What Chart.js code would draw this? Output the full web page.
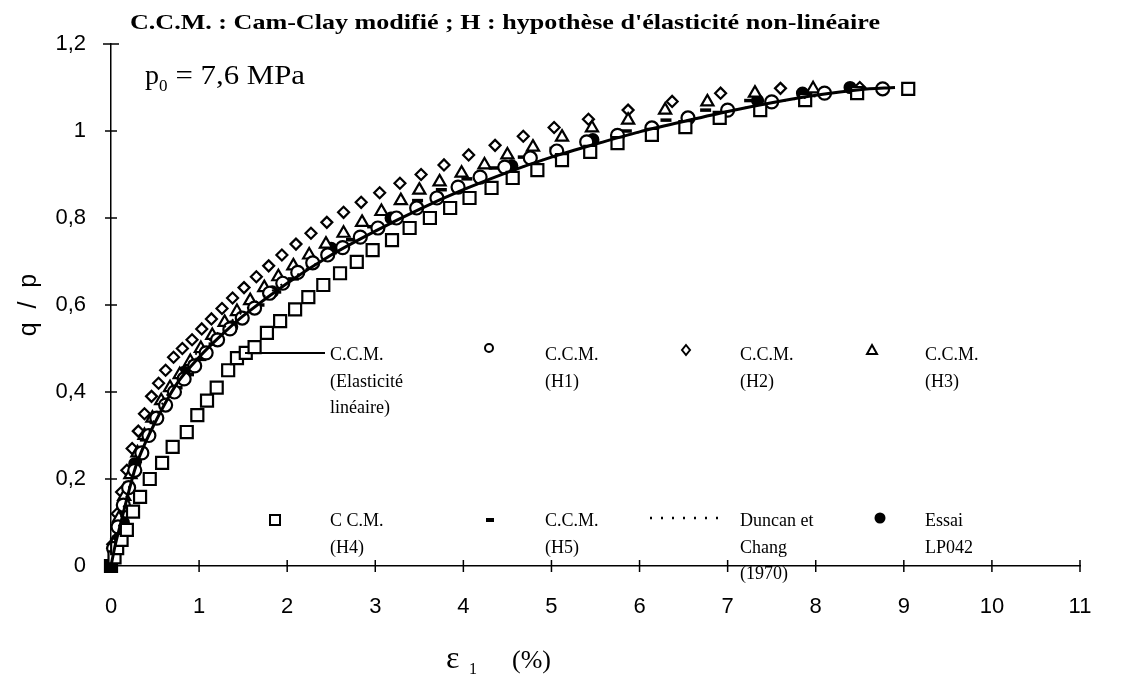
<!DOCTYPE html>
<html>
<head>
<meta charset="utf-8">
<script src="https://cdn.jsdelivr.net/npm/chart.js@4"></script>
<style>
  html, body { margin: 0; padding: 0; background: #fff; }
  #wrap { width: 1129px; height: 682px; }
</style>
</head>
<body>
<div id="wrap"><canvas id="chart" width="1129" height="682"></canvas></div>
<script>
// Axis ticks
const xTicks = [0, 1, 2, 3, 4, 5, 6, 7, 8, 9, 10, 11];
const yTicks = [0, 0.2, 0.4, 0.6, 0.8, 1, 1.2];

// C.C.M. (Elasticité linéaire) - solid line
const lineEps = [0, 0.05, 0.1, 0.2, 0.3, 0.5, 0.75, 1, 1.25, 1.5, 2, 2.5, 3, 3.5, 4, 4.5, 5, 5.5, 6, 6.5, 7, 7.5, 8, 8.5, 8.9];
const lineQp  = [0, 0.05, 0.09, 0.17, 0.24, 0.33, 0.42, 0.48, 0.53, 0.575, 0.65, 0.715, 0.77, 0.82, 0.865, 0.905, 0.94, 0.97, 0.998, 1.022, 1.045, 1.065, 1.082, 1.095, 1.1];

// C.C.M. (H1) - open circles
const h1Eps = [0.03, 0.08, 0.14, 0.2, 0.27, 0.35, 0.43, 0.52, 0.62, 0.72, 0.83, 0.95, 1.08, 1.21, 1.35, 1.49, 1.63, 1.8, 1.95, 2.12, 2.29, 2.46, 2.63, 2.83, 3.03, 3.24, 3.47, 3.7, 3.94, 4.19, 4.47, 4.76, 5.06, 5.4, 5.75, 6.14, 6.55, 7.0, 7.5, 8.1, 8.76];
const h1Qp  = [0.04, 0.09, 0.14, 0.18, 0.22, 0.26, 0.3, 0.34, 0.37, 0.4, 0.43, 0.46, 0.49, 0.52, 0.545, 0.57, 0.593, 0.627, 0.65, 0.675, 0.697, 0.715, 0.732, 0.756, 0.777, 0.8, 0.823, 0.846, 0.871, 0.894, 0.917, 0.938, 0.954, 0.975, 0.99, 1.007, 1.03, 1.048, 1.067, 1.087, 1.097];

// C.C.M. (H2) - open diamonds
const h2Eps = [0.02, 0.07, 0.12, 0.18, 0.24, 0.31, 0.38, 0.46, 0.54, 0.62, 0.71, 0.81, 0.92, 1.03, 1.14, 1.26, 1.38, 1.51, 1.65, 1.79, 1.94, 2.1, 2.27, 2.45, 2.64, 2.84, 3.05, 3.28, 3.52, 3.78, 4.06, 4.36, 4.68, 5.03, 5.42, 5.87, 6.37, 6.92, 7.6, 8.5];
const h2Qp  = [0.05, 0.12, 0.17, 0.22, 0.27, 0.31, 0.35, 0.39, 0.42, 0.45, 0.48, 0.5, 0.52, 0.545, 0.568, 0.592, 0.616, 0.64, 0.665, 0.69, 0.715, 0.74, 0.765, 0.79, 0.813, 0.836, 0.858, 0.88, 0.9, 0.922, 0.945, 0.967, 0.988, 1.008, 1.027, 1.048, 1.068, 1.087, 1.098, 1.1];

// C.C.M. (H3) - open triangles
const h3Eps = [0.03, 0.09, 0.15, 0.22, 0.3, 0.38, 0.47, 0.57, 0.67, 0.78, 0.9, 1.02, 1.15, 1.29, 1.43, 1.58, 1.74, 1.9, 2.07, 2.25, 2.44, 2.64, 2.85, 3.07, 3.29, 3.5, 3.73, 3.98, 4.24, 4.5, 4.79, 5.12, 5.46, 5.87, 6.29, 6.77, 7.31, 7.97];
const h3Qp  = [0.05, 0.11, 0.16, 0.21, 0.26, 0.3, 0.34, 0.38, 0.41, 0.44, 0.47, 0.5, 0.53, 0.56, 0.585, 0.61, 0.64, 0.665, 0.69, 0.715, 0.74, 0.765, 0.79, 0.815, 0.84, 0.864, 0.883, 0.903, 0.922, 0.945, 0.963, 0.986, 1.007, 1.025, 1.048, 1.067, 1.087, 1.097];

// C.C.M. (H4) - open squares
const h4Eps = [0, 0.04, 0.07, 0.12, 0.18, 0.25, 0.33, 0.44, 0.58, 0.7, 0.86, 0.98, 1.09, 1.2, 1.33, 1.43, 1.53, 1.63, 1.77, 1.92, 2.09, 2.24, 2.41, 2.6, 2.79, 2.97, 3.19, 3.39, 3.62, 3.85, 4.07, 4.32, 4.56, 4.84, 5.12, 5.44, 5.75, 6.14, 6.52, 6.91, 7.37, 7.88, 8.47, 9.05];
const h4Qp  = [0, 0.02, 0.041, 0.06, 0.083, 0.125, 0.159, 0.2, 0.237, 0.274, 0.308, 0.347, 0.38, 0.41, 0.45, 0.478, 0.49, 0.503, 0.536, 0.563, 0.59, 0.618, 0.646, 0.673, 0.699, 0.726, 0.749, 0.777, 0.8, 0.823, 0.846, 0.869, 0.892, 0.91, 0.933, 0.952, 0.972, 0.991, 1.009, 1.03, 1.048, 1.071, 1.087, 1.097];

// C.C.M. (H5) - short dashes
const h5Eps = [0.05, 0.12, 0.2, 0.29, 0.39, 0.5, 0.62, 0.75, 0.88, 1.02, 1.17, 1.33, 1.5, 1.68, 1.87, 2.07, 2.28, 2.5, 2.73, 2.97, 3.22, 3.48, 3.75, 4.04, 4.35, 4.68, 5.04, 5.43, 5.85, 6.3, 6.75, 7.25];
const h5Qp  = [0.06, 0.13, 0.19, 0.24, 0.29, 0.33, 0.37, 0.41, 0.44, 0.475, 0.51, 0.54, 0.57, 0.6, 0.63, 0.66, 0.69, 0.72, 0.75, 0.78, 0.81, 0.84, 0.865, 0.89, 0.915, 0.94, 0.96, 0.98, 1.0, 1.025, 1.048, 1.07];

// Duncan et Chang (1970) - dotted line
const dcEps = [0, 0.1, 0.25, 0.5, 0.75, 1, 1.5, 2, 2.5, 3, 3.5, 4, 4.5, 5, 5.5, 6, 6.5, 7, 7.5, 8];
const dcQp  = [0, 0.1, 0.21, 0.34, 0.43, 0.495, 0.585, 0.655, 0.715, 0.77, 0.82, 0.865, 0.905, 0.94, 0.97, 0.998, 1.022, 1.045, 1.065, 1.08];

// Essai LP042 - filled circles
const testEps = [0, 0.07, 0.14, 0.27, 0.49, 0.83, 1.37, 1.83, 2.5, 3.18, 4.55, 5.47, 7.34, 7.85, 8.39];
const testQp  = [0, 0.06, 0.1, 0.235, 0.34, 0.445, 0.55, 0.63, 0.73, 0.8, 0.92, 0.98, 1.07, 1.087, 1.1];

const pts = (xs, ys) => xs.map((x, i) => ({ x: x, y: ys[i] }));
const sans = '"Liberation Sans", Arial, sans-serif';
const serif = '"Liberation Serif", "Times New Roman", serif';

function fmt(v) {
    const r = Math.round(v * 10) / 10;
    return String(r).replace('.', ',');
}

// draw a text stretched to a given width
function fitText(ctx, s, x, y, width) {
    const w = ctx.measureText(s).width;
    ctx.save();
    ctx.translate(x, y);
    ctx.scale(width / w, 1);
    ctx.fillText(s, 0, 0);
    ctx.restore();
}

// tick marks crossing the axes, texts and the in-plot legend
const decor = {
    id: 'decor',
    afterDraw(chart) {
        const ctx = chart.ctx;
        const xs = chart.scales.x, ys = chart.scales.y;
        const x0 = xs.getPixelForValue(0), y0 = ys.getPixelForValue(0);
        ctx.save();
        ctx.strokeStyle = '#000';
        ctx.lineWidth = 1.5;
        xTicks.forEach(t => {
            if (t === 0) return;
            const px = xs.getPixelForValue(t);
            ctx.beginPath(); ctx.moveTo(px, y0 - 6); ctx.lineTo(px, y0 + 6); ctx.stroke();
        });
        yTicks.forEach(t => {
            if (t === 0) return;
            const py = ys.getPixelForValue(t);
            const w = t === 1.2 ? 8 : 6;
            ctx.beginPath(); ctx.moveTo(x0 - w, py); ctx.lineTo(x0 + w, py); ctx.stroke();
        });

        ctx.fillStyle = '#000';
        ctx.textBaseline = 'alphabetic';
        ctx.textAlign = 'left';
        // header
        ctx.font = 'bold 22px ' + serif;
        fitText(ctx, "C.C.M. : Cam-Clay modifié ; H : hypothèse d'élasticité non-linéaire", 130, 29, 750);
        ctx.font = '28px ' + serif;
        ctx.fillText('p', 145, 84);
        const w = ctx.measureText('p').width;
        ctx.font = '17px ' + serif;
        ctx.fillText('0', 145 + w, 91);
        const w2 = ctx.measureText('0').width;
        ctx.font = '28px ' + serif;
        fitText(ctx, '= 7,6 MPa', 145 + w + w2 + 8, 84, 305 - (145 + w + w2 + 8));

        // axis titles
        ctx.font = '32px ' + serif;
        ctx.fillText('ε', 446, 668);
        ctx.font = '16px ' + serif;
        ctx.fillText('1', 469, 674);
        ctx.font = '26px ' + serif;
        ctx.fillText('(%)', 512, 668);
        ctx.save();
        ctx.translate(36, 305);
        ctx.rotate(-Math.PI / 2);
        ctx.textAlign = 'center';
        ctx.font = '25px ' + sans;
        ctx.fillText('q  /  p', 0, 0);
        ctx.restore();

        // legend
        const lh = 26.5;
        const items = [
            { sym: 'line', sx: 245, ex: 325, sy: 353, tx: 330, ty: 360, lines: ['C.C.M.', '(Elasticité', 'linéaire)'] },
            { sym: 'circle', sx: 489, sy: 348, tx: 545, ty: 360, lines: ['C.C.M.', '(H1)'] },
            { sym: 'diamond', sx: 686, sy: 350, tx: 740, ty: 360, lines: ['C.C.M.', '(H2)'] },
            { sym: 'triangle', sx: 872, sy: 350, tx: 925, ty: 360, lines: ['C.C.M.', '(H3)'] },
            { sym: 'square', sx: 275, sy: 520, tx: 330, ty: 526, lines: ['C C.M.', '(H4)'] },
            { sym: 'dash', sx: 490, sy: 520, tx: 545, ty: 526, lines: ['C.C.M.', '(H5)'] },
            { sym: 'dots', sx: 650, ex: 724, sy: 518, tx: 740, ty: 526, lines: ['Duncan et', 'Chang', '(1970)'] },
            { sym: 'filled', sx: 880, sy: 518, tx: 925, ty: 526, lines: ['Essai', 'LP042'] }
        ];
        ctx.font = '18px ' + serif;
        items.forEach(it => {
            it.lines.forEach((s, i) => ctx.fillText(s, it.tx, it.ty + i * lh));
            ctx.beginPath();
            ctx.lineWidth = 2;
            if (it.sym === 'line') {
                ctx.moveTo(it.sx, it.sy); ctx.lineTo(it.ex, it.sy); ctx.stroke();
            } else if (it.sym === 'circle') {
                ctx.arc(it.sx, it.sy, 4, 0, Math.PI * 2); ctx.stroke();
            } else if (it.sym === 'diamond') {
                ctx.moveTo(it.sx, it.sy - 5); ctx.lineTo(it.sx + 4, it.sy); ctx.lineTo(it.sx, it.sy + 5); ctx.lineTo(it.sx - 4, it.sy); ctx.closePath(); ctx.stroke();
            } else if (it.sym === 'triangle') {
                ctx.moveTo(it.sx, it.sy - 5); ctx.lineTo(it.sx + 5, it.sy + 4); ctx.lineTo(it.sx - 5, it.sy + 4); ctx.closePath(); ctx.stroke();
            } else if (it.sym === 'square') {
                ctx.rect(it.sx - 5, it.sy - 5, 10, 10); ctx.stroke();
            } else if (it.sym === 'dash') {
                ctx.lineWidth = 4;
                ctx.moveTo(it.sx - 4, it.sy); ctx.lineTo(it.sx + 4, it.sy); ctx.stroke();
            } else if (it.sym === 'dots') {
                ctx.setLineDash([2, 9]);
                ctx.lineWidth = 2.5;
                ctx.moveTo(it.sx, it.sy); ctx.lineTo(it.ex, it.sy); ctx.stroke();
                ctx.setLineDash([]);
            } else if (it.sym === 'filled') {
                ctx.arc(it.sx, it.sy, 5.5, 0, Math.PI * 2); ctx.fill();
            }
        });
        ctx.restore();
    }
};

const marker = (label, data, style, radius, extra) => Object.assign({
    label: label,
    data: data,
    showLine: false,
    pointStyle: style,
    pointRadius: radius,
    pointHoverRadius: radius,
    pointBorderWidth: 2.2,
    borderColor: '#000',
    backgroundColor: '#fff',
    clip: false
}, extra || {});

new Chart(document.getElementById('chart'), {
    type: 'scatter',
    data: {
        datasets: [
            {
                label: 'C.C.M. (Elasticité linéaire)',
                data: pts(lineEps, lineQp),
                showLine: true,
                borderColor: '#000',
                borderWidth: 3,
                pointRadius: 0,
                tension: 0.3,
                clip: false
            },
            {
                label: 'Duncan et Chang (1970)',
                data: pts(dcEps, dcQp),
                showLine: true,
                borderColor: '#000',
                borderWidth: 2,
                borderDash: [2, 8],
                pointRadius: 0,
                tension: 0.3,
                clip: false
            },
            marker('C.C.M. (H4)', pts(h4Eps, h4Qp), 'rect', 8.5, { backgroundColor: h4Eps.map((v, i) => i === 0 ? '#000' : '#fff') }),
            marker('C.C.M. (H1)', pts(h1Eps, h1Qp), 'circle', 6.5),
            marker('C.C.M. (H3)', pts(h3Eps, h3Qp), 'triangle', 7),
            marker('C.C.M. (H2)', pts(h2Eps, h2Qp), 'rectRot', 5.5),
            marker('C.C.M. (H5)', pts(h5Eps, h5Qp), 'line', 5.5, { pointBorderWidth: 3.5 }),
            marker('Essai LP042', pts(testEps, testQp), 'circle', 5.5, { backgroundColor: '#000' })
        ]
    },
    options: {
        responsive: false,
        animation: false,
        layout: { padding: { left: 0, right: 49, top: 44, bottom: 0 } },
        plugins: { legend: { display: false }, title: { display: false }, tooltip: { enabled: false } },
        scales: {
            x: {
                type: 'linear',
                min: 0,
                max: 11,
                afterFit: s => { s.height = 116; },
                afterBuildTicks: s => { s.ticks = xTicks.map(v => ({ value: v })); },
                grid: { display: false },
                border: { display: true, color: '#000', width: 1.5 },
                ticks: { color: '#000', padding: 20, font: { size: 22, family: sans }, callback: v => String(v) }
            },
            y: {
                type: 'linear',
                min: 0,
                max: 1.2,
                afterFit: s => { s.width = 111; },
                afterBuildTicks: s => { s.ticks = yTicks.map(v => ({ value: v })); },
                grid: { display: false },
                border: { display: true, color: '#000', width: 1.5 },
                ticks: { color: '#000', padding: 17, font: { size: 22, family: sans }, callback: v => fmt(v) }
            }
        }
    },
    plugins: [decor]
});
</script>
</body>
</html>
